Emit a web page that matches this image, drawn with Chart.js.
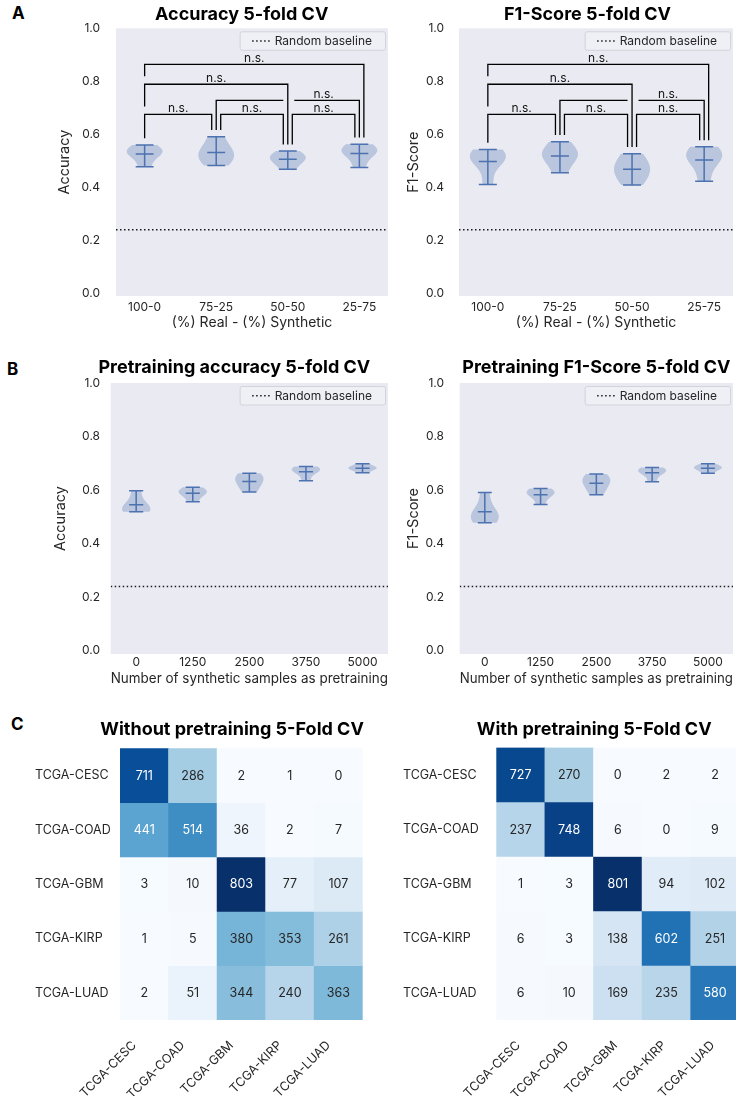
<!DOCTYPE html>
<html>
<head>
<meta charset="utf-8">
<title>Synthetic data pretraining – cross-validation results</title>
<script src="https://cdn.jsdelivr.net/npm/chart.js@4.4.1/dist/chart.umd.min.js"></script>
<style>
  html, body { margin: 0; padding: 0; background: #fff; width: 736px; height: 1096px; overflow: hidden; }
  #figure { position: relative; width: 736px; height: 1096px; overflow: hidden; }
  #figure canvas { position: absolute; }
  .tag { position: absolute; font: 700 17px Inter, "DejaVu Sans", sans-serif; line-height: 17px; color: #000; }
</style>
</head>
<body>
<div id="figure">
  <div class="tag" style="left:12px;top:5px">A</div>
  <div class="tag" style="left:7px;top:361px">B</div>
  <div class="tag" style="left:11px;top:716px">C</div>
  <canvas id="accViolin" width="400" height="340" style="left:0;top:0"></canvas>
  <canvas id="f1Violin" width="368" height="340" style="left:368px;top:0"></canvas>
  <canvas id="preAccViolin" width="400" height="340" style="left:0;top:355px"></canvas>
  <canvas id="preF1Violin" width="368" height="340" style="left:368px;top:355px"></canvas>
  <canvas id="cmWithout" width="400" height="406" style="left:0;top:690px"></canvas>
  <canvas id="cmWith" width="380" height="406" style="left:368px;top:690px"></canvas>
</div>
<script>
// ---- Panel A: real/synthetic mix, per-fold scores ----
const mixLabels = ['100-0', '75-25', '50-50', '25-75'];
const accFolds = [
  [0.478, 0.520, 0.533, 0.539, 0.560],
  [0.482, 0.508, 0.528, 0.546, 0.591],
  [0.468, 0.497, 0.508, 0.520, 0.537],
  [0.475, 0.522, 0.536, 0.544, 0.563]
];
const f1Folds = [
  [0.411, 0.502, 0.510, 0.519, 0.543],
  [0.455, 0.505, 0.522, 0.536, 0.572],
  [0.409, 0.445, 0.468, 0.491, 0.527],
  [0.423, 0.495, 0.514, 0.530, 0.553]
];
// pairwise tests between mixes (category indices) and their outcome
const comparisons = [[0, 1], [1, 2], [2, 3], [1, 3], [0, 2], [0, 3]];
const accSignif = ['n.s.', 'n.s.', 'n.s.', 'n.s.', 'n.s.', 'n.s.'];
const f1Signif = ['n.s.', 'n.s.', 'n.s.', 'n.s.', 'n.s.', 'n.s.'];

// ---- Panel B: number of synthetic pretraining samples, per-fold scores ----
const pretrainLabels = ['0', '1250', '2500', '3750', '5000'];
const pretrainAccFolds = [
  [0.519, 0.524, 0.531, 0.553, 0.598],
  [0.557, 0.583, 0.592, 0.597, 0.611],
  [0.593, 0.618, 0.636, 0.650, 0.663],
  [0.635, 0.668, 0.674, 0.680, 0.688],
  [0.665, 0.680, 0.682, 0.685, 0.698]
];
const pretrainF1Folds = [
  [0.478, 0.495, 0.503, 0.528, 0.591],
  [0.546, 0.580, 0.588, 0.595, 0.606],
  [0.583, 0.612, 0.630, 0.645, 0.660],
  [0.631, 0.664, 0.670, 0.676, 0.684],
  [0.663, 0.679, 0.683, 0.687, 0.698]
];
const randomBaseline = 0.24;
const scoreTicks = [0, 0.2, 0.4, 0.6, 0.8, 1.0];

// ---- Panel C: confusion matrices (rows = true class, columns = predicted) ----
const cancerTypes = ['TCGA-CESC', 'TCGA-COAD', 'TCGA-GBM', 'TCGA-KIRP', 'TCGA-LUAD'];
const cmWithoutPretraining = [
  [711, 286, 2, 1, 0],
  [441, 514, 36, 2, 7],
  [3, 10, 803, 77, 107],
  [1, 5, 380, 353, 261],
  [2, 51, 344, 240, 363]
];
const cmWithPretraining = [
  [727, 270, 0, 2, 2],
  [237, 748, 6, 0, 9],
  [1, 3, 801, 94, 102],
  [6, 3, 138, 602, 251],
  [6, 10, 169, 235, 580]
];

// ------------------------------------------------------------------
const FONT = 'Inter, "DejaVu Sans", sans-serif';
Chart.defaults.font.family = FONT;
Chart.defaults.color = '#262626';

const mean = arr => arr.reduce((s, v) => s + v, 0) / arr.length;

// Gaussian KDE with Scott's bandwidth
function gaussianKde(sample, points) {
  const n = sample.length, m = mean(sample);
  const sd = Math.sqrt(sample.reduce((s, v) => s + (v - m) ** 2, 0) / (n - 1));
  const bw = sd * Math.pow(n, -1 / 5);
  return points.map(p => sample.reduce((s, v) => s + Math.exp(-0.5 * ((p - v) / bw) ** 2), 0));
}

// matplotlib "Blues"
const bluesStops = ['#f7fbff', '#deebf7', '#c6dbef', '#9ecae1', '#6baed6', '#4292c6', '#2171b5', '#08519c', '#08306b'];
const hexRgb = h => [1, 3, 5].map(i => parseInt(h.slice(i, i + 2), 16));
function blues(t) {
  const s = Math.max(0, Math.min(1, t)) * (bluesStops.length - 1);
  const i = Math.min(Math.floor(s), bluesStops.length - 2), f = s - i;
  const a = hexRgb(bluesStops[i]), b = hexRgb(bluesStops[i + 1]);
  return 'rgb(' + a.map((c, k) => Math.round(c + (b[k] - c) * f)).join(',') + ')';
}
function annotationColor(rgb) {
  const lin = rgb.match(/\d+/g).map(Number).map(c => {
    c /= 255; return c <= 0.03928 ? c / 12.92 : Math.pow((c + 0.055) / 1.055, 2.4);
  });
  const lum = 0.2126 * lin[0] + 0.7152 * lin[1] + 0.0722 * lin[2];
  return lum > 0.408 ? '#262626' : '#ffffff';
}

// axes background, panel title and boxed legend
const panelDecor = {
  id: 'panelDecor',
  beforeDraw(chart, args, o) {
    if (!o.background) return;
    const { ctx, chartArea: a } = chart;
    ctx.save();
    ctx.fillStyle = o.background;
    ctx.fillRect(a.left, a.top, a.width, a.height);
    ctx.restore();
  },
  afterDraw(chart, args, o) {
    const { ctx, chartArea: a } = chart;
    ctx.save();
    if (o.title) {
      ctx.font = '700 18px ' + FONT;
      ctx.fillStyle = '#000';
      ctx.textAlign = 'center';
      ctx.textBaseline = 'alphabetic';
      ctx.fillText(o.title, (a.left + a.right) / 2 + (o.titleDx || 0), a.top - (o.titleDy || 0));
    }
    const entry = chart.data.datasets.find(d => d.legendEntry);
    if (o.legend && entry) {
      ctx.font = '12px ' + FONT;
      const w = ctx.measureText(entry.label).width + 48, h = 18.5;
      const x = a.right - 3 - w, y = a.top + 3;
      ctx.beginPath();
      ctx.roundRect(x + 0.5, y + 0.5, w, h, 2);
      ctx.fillStyle = 'rgba(240,240,246,0.8)';
      ctx.fill();
      ctx.strokeStyle = '#d3d3db';
      ctx.lineWidth = 1;
      ctx.stroke();
      ctx.beginPath();
      ctx.setLineDash(entry.borderDash || []);
      ctx.strokeStyle = entry.borderColor;
      ctx.lineWidth = entry.borderWidth;
      ctx.moveTo(x + 12.5, y + h / 2 + 0.5);
      ctx.lineTo(x + 31, y + h / 2 + 0.5);
      ctx.stroke();
      ctx.setLineDash([]);
      ctx.fillStyle = '#262626';
      ctx.textAlign = 'left';
      ctx.textBaseline = 'middle';
      ctx.fillText(entry.label, x + 35, y + h / 2 + 1);
    }
    ctx.restore();
  }
};

// violins: KDE body clipped at fold min/max, with min/max/mean bars
const violins = {
  id: 'violins',
  afterDatasetsDraw(chart, args, o) {
    const { ctx, scales: { x, y } } = chart;
    ctx.save();
    chart.data.datasets.forEach(ds => {
      if (!ds.folds) return;
      ds.folds.forEach((f, i) => {
        const lo = Math.min(...f), hi = Math.max(...f);
        const pts = Array.from({ length: 100 }, (_, k) => lo + (hi - lo) * k / 99);
        const dens = gaussianKde(f, pts);
        const dmax = Math.max(...dens);
        const half = dens.map(d => (o.width / 2) * d / dmax);
        ctx.beginPath();
        pts.forEach((v, k) => {
          const px = x.getPixelForValue(i - half[k]), py = y.getPixelForValue(v);
          k ? ctx.lineTo(px, py) : ctx.moveTo(px, py);
        });
        for (let k = pts.length - 1; k >= 0; k--) {
          ctx.lineTo(x.getPixelForValue(i + half[k]), y.getPixelForValue(pts[k]));
        }
        ctx.closePath();
        ctx.fillStyle = o.fill;
        ctx.fill();

        ctx.strokeStyle = o.line;
        ctx.lineWidth = 1.5;
        const cx = x.getPixelForValue(i);
        const c0 = x.getPixelForValue(i - o.width / 4), c1 = x.getPixelForValue(i + o.width / 4);
        ctx.beginPath();
        ctx.moveTo(cx, y.getPixelForValue(lo));
        ctx.lineTo(cx, y.getPixelForValue(hi));
        [lo, hi, mean(f)].forEach(v => {
          const py = y.getPixelForValue(v);
          ctx.moveTo(c0, py);
          ctx.lineTo(c1, py);
        });
        ctx.stroke();
      });
    });
    ctx.restore();
  }
};

// significance brackets between categories
const brackets = {
  id: 'brackets',
  afterDatasetsDraw(chart, args, o) {
    const { ctx, scales: { x, y } } = chart;
    const folds = chart.data.datasets.find(d => d.folds).folds;
    const floor = folds.map(f => Math.max(...f) + o.gap);
    const pairs = o.pairs.map(([a, b], k) => ({ a, b, level: o.stack[k], label: o.labels[k] }));
    pairs.forEach((p, k) => {
      const below = pairs.slice(0, k).filter(q => q.a === p.a && p.a === 0);
      p.stacked = below.length > 0;
      p.leftStop = p.stacked ? o.levels[Math.max(...below.map(q => q.level))] + o.stackGap : floor[p.a];
    });
    // spread legs that share a category
    folds.forEach((_, c) => {
      const legs = [];
      pairs.filter(p => p.b === c).sort((p, q) => p.level - q.level).forEach(p => legs.push([p, 'bX']));
      pairs.filter(p => p.a === c && !p.stacked).sort((p, q) => q.level - p.level).forEach(p => legs.push([p, 'aX']));
      const cx = x.getPixelForValue(c);
      legs.forEach(([p, side], k) => { p[side] = cx + (k - (legs.length - 1) / 2) * o.legSpacing; });
      pairs.filter(p => p.a === c && p.stacked).forEach(p => { p.aX = cx; });
    });
    ctx.save();
    ctx.strokeStyle = '#000';
    ctx.lineWidth = 1.3;
    ctx.fillStyle = '#111';
    ctx.font = '12px ' + FONT;
    ctx.textAlign = 'center';
    ctx.textBaseline = 'alphabetic';
    pairs.forEach(p => {
      const lineV = o.levels[p.level];
      const yl = y.getPixelForValue(lineV);
      // legs of higher brackets crossing this one
      const crossing = [];
      pairs.forEach(q => {
        if (o.levels[q.level] <= lineV) return;
        if (q.b > p.a && q.b < p.b) crossing.push([q.b, q.bX]);
        if (!q.stacked && q.a > p.a && q.a < p.b) crossing.push([q.a, q.aX]);
      });
      ctx.beginPath();
      ctx.moveTo(p.aX, y.getPixelForValue(p.leftStop));
      ctx.lineTo(p.aX, yl);
      crossing.sort((m, n) => m[1] - n[1]).forEach(([, lx]) => {
        ctx.lineTo(lx - 4.5, yl);
        ctx.moveTo(lx + 6.5, yl);
      });
      ctx.lineTo(p.bX, yl);
      ctx.lineTo(p.bX, y.getPixelForValue(floor[p.b]));
      ctx.stroke();
      const tx = crossing.length
        ? (x.getPixelForValue(crossing[crossing.length - 1][0]) + x.getPixelForValue(p.b)) / 2
        : (p.aX + p.bX) / 2;
      ctx.fillText(p.label, tx, yl - 2);
    });
    ctx.restore();
  }
};

function violinChart(id, labels, folds, g, text, signif) {
  const xMin = -g.xPad, xMax = labels.length - 1 + g.xPad;
  return new Chart(document.getElementById(id), {
    type: 'scatter',
    data: {
      datasets: [
        { label: 'Per-fold scores', data: folds.map((f, i) => ({ x: i, y: mean(f) })), folds,
          pointRadius: 0, pointHoverRadius: 0 },
        { label: 'Random baseline', legendEntry: true, showLine: true,
          data: [{ x: xMin, y: randomBaseline }, { x: xMax, y: randomBaseline }],
          borderColor: '#1a1a1a', borderWidth: 1.5, borderDash: [1.5, 2.5], pointRadius: 0, pointHoverRadius: 0 }
      ]
    },
    options: {
      responsive: false,
      animation: false,
      devicePixelRatio: 1,
      layout: { padding: g.pad },
      scales: {
        x: {
          type: 'linear', min: xMin, max: xMax,
          grid: { display: false, drawTicks: false }, border: { display: false },
          afterBuildTicks: s => { s.ticks = labels.map((_, i) => ({ value: i })); },
          afterFit: s => { s.height = g.xh; },
          ticks: { autoSkip: false, maxRotation: 0, padding: g.xTickPad, font: { size: 12 }, callback: v => labels[v] },
          title: { display: true, text: text.x, font: { size: 14 }, padding: { top: 0, bottom: g.xTitlePad } }
        },
        y: {
          min: g.yMin, max: 1,
          grid: { display: false, drawTicks: false }, border: { display: false },
          afterBuildTicks: s => { s.ticks = scoreTicks.map(v => ({ value: v })); },
          afterFit: s => { s.width = g.yw; },
          ticks: { padding: g.yTickPad, font: { size: 12 }, callback: v => v.toFixed(1) },
          title: { display: true, text: text.y, font: { size: 14.5 }, padding: { top: g.yTitlePad, bottom: 0 } }
        }
      },
      plugins: {
        legend: { display: false },
        tooltip: { enabled: false },
        panelDecor: { background: '#EAEAF2', title: text.title, titleDx: g.titleDx, titleDy: g.titleDy, legend: true },
        violins: { width: 0.5, fill: 'rgba(76,114,176,0.3)', line: '#4C72B0' },
        brackets: signif ? {
          pairs: comparisons, labels: signif, stack: [0, 0, 0, 1, 2, 3],
          levels: [0.675, 0.728, 0.789, 0.864], gap: 0.025, stackGap: 0.03, legSpacing: 4.5
        } : false
      }
    },
    plugins: [panelDecor, violins, brackets]
  });
}

// cell annotations for the heatmaps
const cellCounts = {
  id: 'cellCounts',
  afterDatasetsDraw(chart) {
    const { ctx } = chart;
    ctx.save();
    ctx.font = '12.5px ' + FONT;
    ctx.textAlign = 'center';
    ctx.textBaseline = 'middle';
    chart.data.datasets.forEach((ds, di) => {
      chart.getDatasetMeta(di).data.forEach((bar, ci) => {
        const { x, y, base } = bar.getProps(['x', 'y', 'base'], true);
        ctx.fillStyle = annotationColor(ds.backgroundColor[ci]);
        ctx.fillText(String(ds.counts[ci]), x, (y + base) / 2 + 0.5);
      });
    });
    ctx.restore();
  }
};

function confusionChart(id, matrix, g, title) {
  const all = matrix.flat(), lo = Math.min(...all), hi = Math.max(...all);
  return new Chart(document.getElementById(id), {
    type: 'bar',
    data: {
      labels: cancerTypes,
      datasets: matrix.map((row, r) => ({
        label: cancerTypes[r],
        data: row.map(() => [r, r + 1]),
        counts: row,
        backgroundColor: row.map(v => blues((v - lo) / (hi - lo))),
        grouped: false, barPercentage: 1, categoryPercentage: 1,
        borderWidth: 0, borderSkipped: false
      }))
    },
    options: {
      responsive: false,
      animation: false,
      devicePixelRatio: 1,
      layout: { padding: g.pad },
      scales: {
        x: {
          grid: { display: false, drawTicks: false }, border: { display: false },
          afterFit: s => { s.height = g.xh; },
          ticks: { autoSkip: false, minRotation: 45, maxRotation: 45, padding: g.xTickPad,
                   labelOffset: g.labelOffset, font: { size: 12.5 } }
        },
        y: {
          type: 'linear', reverse: true, min: 0, max: cancerTypes.length,
          grid: { display: false, drawTicks: false }, border: { display: false },
          afterBuildTicks: s => { s.ticks = cancerTypes.map((_, i) => ({ value: i + 0.5 })); },
          afterFit: s => { s.width = g.yw; },
          ticks: { crossAlign: 'far', font: { size: 12.5 }, callback: v => cancerTypes[Math.floor(v)] }
        }
      },
      plugins: {
        legend: { display: false },
        tooltip: { enabled: false },
        panelDecor: { title, titleDx: g.titleDx, titleDy: g.titleDy }
      }
    },
    plugins: [panelDecor, cellCounts]
  });
}

const mixText = { x: '(%) Real - (%) Synthetic' };
const pretrainText = { x: 'Number of synthetic samples as pretraining' };

violinChart('accViolin', mixLabels, accFolds,
  { pad: { left: 0, right: 12, top: 28.3, bottom: 0 }, yw: 116, xh: 44, xPad: 0.4, yMin: -0.01,
    yTickPad: 16, yTitlePad: 56.3, xTickPad: 3.8, xTitlePad: 8.6, titleDx: -10.3, titleDy: 8.5 },
  { ...mixText, y: 'Accuracy', title: 'Accuracy 5-fold CV' }, accSignif);

violinChart('f1Violin', mixLabels, f1Folds,
  { pad: { left: 0, right: 3, top: 28.3, bottom: 0 }, yw: 91, xh: 44, xPad: 0.4, yMin: -0.01,
    yTickPad: 15, yTitlePad: 37.3, xTickPad: 3.8, xTitlePad: 8.6, titleDx: -8.5, titleDy: 8.5 },
  { ...mixText, y: 'F1-Score', title: 'F1-Score 5-fold CV' }, f1Signif);

violinChart('preAccViolin', pretrainLabels, pretrainAccFolds,
  { pad: { left: 0, right: 12, top: 28, bottom: 0 }, yw: 110.7, xh: 41, xPad: 0.45, yMin: -0.012,
    yTickPad: 10.7, yTitlePad: 52.3, xTickPad: 1.3, xTitlePad: 7.6, titleDx: -15, titleDy: 10 },
  { ...pretrainText, y: 'Accuracy', title: 'Pretraining accuracy 5-fold CV' }, null);

violinChart('preF1Violin', pretrainLabels, pretrainF1Folds,
  { pad: { left: 0, right: 3, top: 28, bottom: 0 }, yw: 91.7, xh: 41, xPad: 0.45, yMin: -0.012,
    yTickPad: 15.7, yTitlePad: 37, xTickPad: 1.3, xTitlePad: 7.6, titleDx: 0, titleDy: 10 },
  { ...pretrainText, y: 'F1-Score', title: 'Pretraining F1-Score 5-fold CV' }, null);

confusionChart('cmWithout', cmWithoutPretraining,
  { pad: { left: 35, right: 37.3, top: 58.3, bottom: 0 }, yw: 85, xh: 76, xTickPad: 18, labelOffset: -10,
    titleDx: -9.3, titleDy: 13 },
  'Without pretraining 5-Fold CV');

confusionChart('cmWith', cmWithPretraining,
  { pad: { left: 35, right: 8.7, top: 57.5, bottom: 0 }, yw: 93.3, xh: 76, xTickPad: 18, labelOffset: -2.4,
    titleDx: -23.6, titleDy: 13 },
  'With pretraining 5-Fold CV');
</script>
</body>
</html>
